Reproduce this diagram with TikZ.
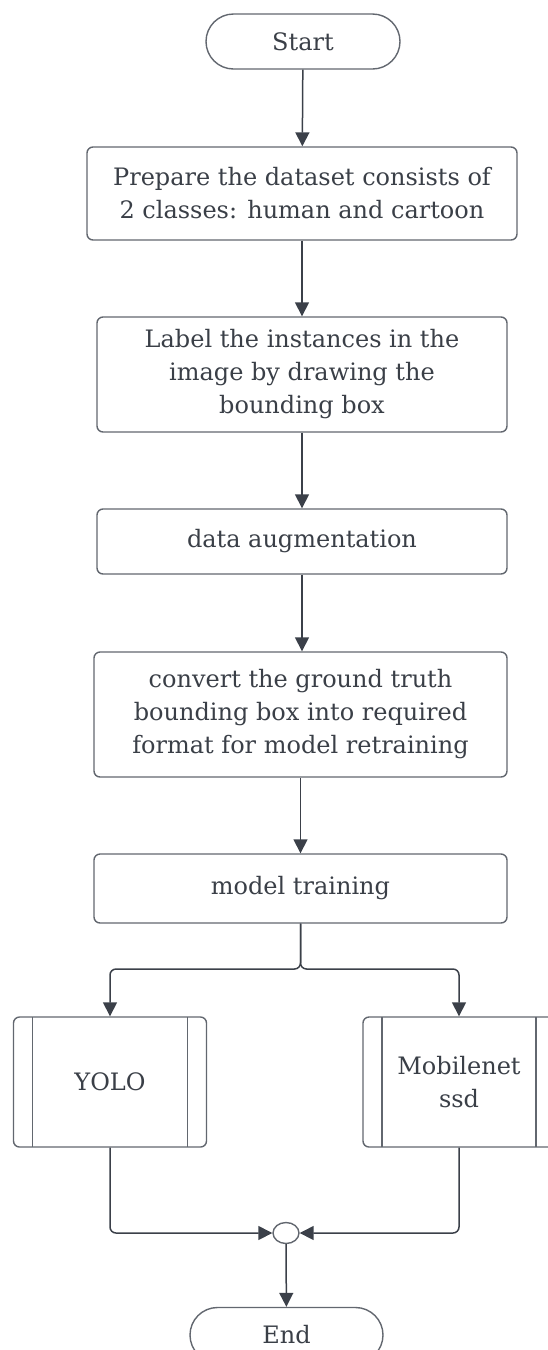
\documentclass[tikz,border=0pt]{standalone}
\usepackage{fontspec}
\setmainfont{DejaVu Serif}
\usetikzlibrary{arrows.meta,shapes.misc,shapes.geometric}
\definecolor{inkline}{HTML}{3B4049}
\definecolor{boxline}{HTML}{62676F}
\definecolor{inktext}{HTML}{3A3F47}
\tikzset{
  flowbox/.style={
    draw=boxline, line width=1.4pt, rounded corners=6pt,
    align=center, text=inktext, inner sep=0pt,
    font=\fontsize{24}{33}\selectfont
  },
  termbox/.style={
    flowbox, rounded rectangle, rounded corners=0pt
  },
  subproc/.style={
    flowbox,
    path picture={
      \draw[boxline, line width=1.4pt]
        ([xshift=19pt]path picture bounding box.north west) --
        ([xshift=19pt]path picture bounding box.south west);
      \draw[boxline, line width=1.4pt]
        ([xshift=-19pt]path picture bounding box.north east) --
        ([xshift=-19pt]path picture bounding box.south east);
    }
  },
  conn/.style={
    draw=inkline, line width=1.5pt,
    -{Triangle[length=14pt,width=14pt]}
  }
}
\begin{document}
\begin{tikzpicture}[x=1pt,y=-1pt]
\useasboundingbox (0,0) rectangle (547,1350);

% main column
\node[termbox, minimum width=194pt, minimum height=55pt] (start) at (303,41.5) {Start};
\node[flowbox, minimum width=430pt, minimum height=93pt] (prep) at (302,193.5)
  {Prepare the dataset consists of\\2 classes: human and cartoon};
\node[flowbox, minimum width=410pt, minimum height=115pt] (label) at (302,374.5)
  {Label the instances in the\\image by drawing the\\bounding box};
\node[flowbox, minimum width=410pt, minimum height=65pt] (augm) at (302,541.5)
  {data augmentation};
\node[flowbox, minimum width=413pt, minimum height=125pt] (conv) at (300.5,714.5)
  {convert the ground truth\\bounding box into required\\format for model retraining};
\node[flowbox, minimum width=413pt, minimum height=69pt] (train) at (300.5,888.5)
  {model training};

% the two models
\node[subproc, minimum width=193pt, minimum height=130pt] (yolo) at (110,1082) {YOLO};
\node[subproc, minimum width=192pt, minimum height=130pt] (mobnet) at (459,1082)
  {Mobilenet\\ssd};

\node[ellipse, draw=boxline, line width=1.4pt, minimum width=26pt, minimum height=21pt,
  inner sep=0pt] (join) at (286,1233) {};
\node[termbox, minimum width=193pt, minimum height=55pt] (stop) at (286.5,1335) {End};

\coordinate (fork) at (300.5,969);

\draw[conn] (start) -- (prep);
\draw[conn] (prep) -- (label);
\draw[conn] (label) -- (augm);
\draw[conn] (augm.south) -- (augm.south |- conv.north);
\draw[conn] (conv) -- (train);
\draw[conn, rounded corners=6pt] (train.south) -- (fork) -| (yolo.north);
\draw[conn, rounded corners=6pt] (train.south) -- (fork) -| (mobnet.north);
\draw[conn, rounded corners=6pt] (yolo.south) |- (join.west);
\draw[conn, rounded corners=6pt] (mobnet.south) |- (join.east);
\draw[conn] (join) -- (stop);
\end{tikzpicture}
\end{document}
